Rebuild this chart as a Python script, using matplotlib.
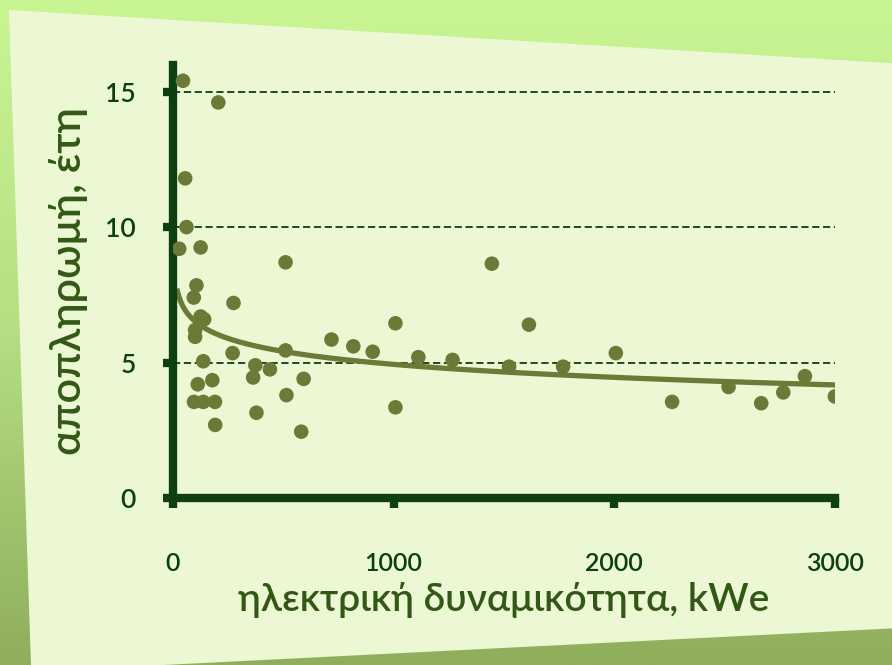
import matplotlib
matplotlib.use('Agg')
import matplotlib.pyplot as plt
import numpy as np
from matplotlib.patches import Polygon

# payback time vs electrical capacity
capacity_kwe = [45, 205, 55, 61, 28, 125, 510, 1445, 106, 94, 274, 125, 141,
                1008, 1613, 100, 100, 718, 817, 905, 510, 270, 137, 1112, 1267,
                2007, 1523, 1768, 373, 439, 363, 592, 178, 112, 2864, 2518,
                2766, 3000, 2262, 2666, 514, 1008, 95, 137, 190, 191, 378, 581]
payback_years = [15.4, 14.6, 11.8, 10.0, 9.2, 9.25, 8.7, 8.65, 7.85, 7.4, 7.2,
                 6.7, 6.6, 6.45, 6.4, 6.2, 5.95, 5.85, 5.6, 5.4, 5.45, 5.35,
                 5.05, 5.2, 5.1, 5.35, 4.85, 4.85, 4.9, 4.75, 4.45, 4.4, 4.35,
                 4.2, 4.5, 4.1, 3.9, 3.75, 3.55, 3.5, 3.8, 3.35, 3.55, 3.55,
                 3.55, 2.7, 3.15, 2.45]

# logarithmic trend y = a + b*ln(x), coefficients
trend_a = 9.7
trend_b = -0.69
trend_range = [20, 3000]

x_ticks = [0, 1000, 2000, 3000]
y_ticks = [0, 5, 10, 15]
x_label = 'ηλεκτρική δυναμικότητα, kWe'
y_label = 'αποπληρωμή, έτη'

dark = '#0d3f12'
olive = '#6b7a36'
label_col = '#335816'

plt.rcParams['font.family'] = ['Lato', 'DejaVu Sans']

fig = plt.figure(figsize=(8.92, 6.65), dpi=100)

# green backdrop with the tilted light panel
bg = fig.add_axes([0, 0, 1, 1], zorder=-2)
grad = np.linspace(0, 1, 256).reshape(-1, 1)
bg.imshow(grad, aspect='auto', extent=[0, 1, 0, 1], origin='lower',
          cmap=matplotlib.colors.LinearSegmentedColormap.from_list(
              'g', ['#8fae5c', '#b6de82', '#c9f593']))
bg.add_patch(Polygon([[0.01, 0.985], [1.0, 0.905], [1.0, 0.055], [0.035, -0.01]],
                     closed=True, facecolor='#ecf7d4', edgecolor='none'))
bg.set_xlim(0, 1)
bg.set_ylim(0, 1)
bg.axis('off')

ax = fig.add_axes([0.194, 0.251, 0.742, 0.652])
ax.patch.set_alpha(0)

for y in y_ticks[1:]:
    ax.axhline(y, color=dark, lw=1.3, ls=(0, (4, 2)), zorder=1)

ax.scatter(capacity_kwe, payback_years, s=110, color=olive,
           edgecolor='none', zorder=3)

xs = np.linspace(trend_range[0], trend_range[1], 400)
ax.plot(xs, trend_a + trend_b * np.log(xs), color=olive, lw=3.8, zorder=2)

ax.set_xlim(0, 3000)
ax.set_ylim(0, 16)
ax.set_xticks(x_ticks)
ax.set_yticks(y_ticks)
for s in ['top', 'right']:
    ax.spines[s].set_visible(False)
for s in ['left', 'bottom']:
    ax.spines[s].set_color(dark)
    ax.spines[s].set_linewidth(6)
ax.tick_params(axis='y', length=7, width=6, color=dark, pad=20,
               labelsize=19, labelcolor=dark)
ax.tick_params(axis='x', length=7, width=6, color=dark, pad=32,
               labelsize=18, labelcolor=dark)
for t in ax.get_xticklabels() + ax.get_yticklabels():
    t.set_fontweight('semibold')
ax.set_xlabel(x_label, fontsize=28, color=label_col, labelpad=5,
              fontweight='semibold')
ax.set_ylabel(y_label, fontsize=31, color=label_col, labelpad=12,
              fontweight='semibold')

fig.savefig('out.png', dpi=100)
